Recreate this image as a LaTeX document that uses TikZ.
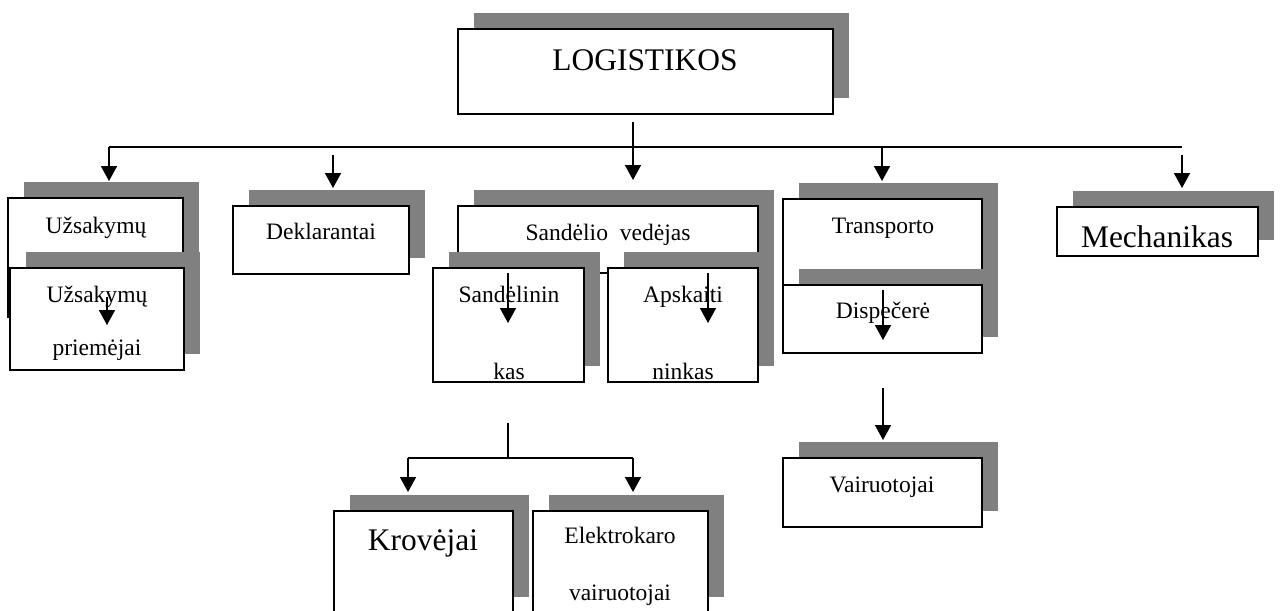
\documentclass[tikz,border=0pt]{standalone}
\usepackage{fontspec}
\setmainfont{Liberation Serif}
\usetikzlibrary{arrows.meta,fit,shadows}
\definecolor{shade}{RGB}{128,128,128}
\begin{document}
\begin{tikzpicture}[x=0.02cm,y=-0.02cm,
  unit/.style={draw=black, line width=1.25pt, fill=white, inner sep=0pt,
    general shadow={fill=shade, draw=none, shadow xshift=0.32cm, shadow yshift=0.32cm}},
  small/.style={anchor=base, inner sep=0pt, font=\fontsize{13.4pt}{16pt}\selectfont},
  large/.style={anchor=base, inner sep=0pt, font=\fontsize{17.9pt}{21pt}\selectfont},
  link/.style={line width=1pt},
  arr/.style={line width=1pt, -{Triangle[length=0.3cm,width=0.32cm]}}]
\useasboundingbox (0,0) rectangle (1280,610);
\clip (0,0) rectangle (1280,610);

% boxes, drawn back to front
\node[unit, fit={(458,29) (833,114)}] (log) {};
\node[unit, fit={(8,198) (183,317)}] (uz1) {};
\node[unit, fit={(10,268) (184,370)}] (uz2) {};
\node[unit, fit={(233,206) (409,274)}] (dek) {};
\node[unit, fit={(458,206) (758,273)}] (sv) {};
\node[unit, fit={(433,268) (584,382)}] (sk) {};
\node[unit, fit={(608,268) (758,382)}] (ap) {};
\node[unit, fit={(783,199) (982,300)}] (tr) {};
\node[unit, fit={(783,285) (982,353)}] (dis) {};
\node[unit, fit={(1057,207) (1258,256)}] (mech) {};
\node[unit, fit={(783,458) (982,527)}] (vai) {};
\node[unit, fit={(334,511) (513,613)}] (kro) {};
\node[unit, fit={(533,511) (708,613)}] (el) {};

% labels
\node[large] (logT) at (645,70) {LOGISTIKOS};
\node[small] (uz1T) at (96,233) {Užsakymų};
\node[small] (uz2T) at (97,302) {Užsakymų};
\node[small] (uz2B) at (97,355) {priemėjai};
\node[small] (dekT) at (321,239) {Deklarantai};
\node[small] (svT) at (608,240) {Sandėlio\ \ vedėjas};
\node[small] (skT) at (509,302) {Sandėlinin};
\node[small] (skB) at (509,379) {kas};
\node[small] (apT) at (683,302) {Apskaiti};
\node[small] (apB) at (683,379) {ninkas};
\node[small] (trT) at (883,233) {Transporto};
\node[small] (disT) at (883,318) {Dispečerė};
\node[large] (mechT) at (1157,247) {Mechanikas};
\node[small] (vaiT) at (882,492) {Vairuotojai};
\node[large] (kroT) at (423,550) {Krovėjai};
\node[small] (elT) at (620,543) {Elektrokaro};
\node[small] (elB) at (620,600) {vairuotojai};

% connector points
\coordinate (top) at (633,122);
\coordinate (topTip) at (633,180);
\coordinate (busL) at (109,147);
\coordinate (busR) at (1182,147);
\coordinate (busT) at (882,147);
\coordinate (uzTip) at (109,181);
\coordinate (trTip) at (882,181);
\coordinate (dekS) at (333,155);
\coordinate (dekTip) at (333,188);
\coordinate (mechS) at (1182,155);
\coordinate (mechTip) at (1182,188);
\coordinate (uzS) at (107,297);
\coordinate (uzIn) at (107,325);
\coordinate (skS) at (508,273);
\coordinate (skIn) at (508,323);
\coordinate (apS) at (708,273);
\coordinate (apIn) at (708,323);
\coordinate (disS) at (883,290);
\coordinate (disIn) at (883,340);
\coordinate (vaiS) at (883,388);
\coordinate (vaiTip) at (883,440);
\coordinate (lowS) at (508,423);
\coordinate (lowM) at (508,458);
\coordinate (lowL) at (408,458);
\coordinate (lowR) at (633,458);
\coordinate (kroTip) at (408,492);
\coordinate (elTip) at (633,492);

% connectors
\draw[link] (busL) -- (busR);
\draw[arr] (top) -- (topTip);
\draw[arr] (busL) -- (uzTip);
\draw[arr] (busT) -- (trTip);
\draw[arr] (dekS) -- (dekTip);
\draw[arr] (mechS) -- (mechTip);
\draw[arr] (uzS) -- (uzIn);
\draw[arr] (skS) -- (skIn);
\draw[arr] (apS) -- (apIn);
\draw[arr] (disS) -- (disIn);
\draw[arr] (vaiS) -- (vaiTip);
\draw[link] (lowS) -- (lowM);
\draw[link] (lowL) -- (lowR);
\draw[arr] (lowL) -- (kroTip);
\draw[arr] (lowR) -- (elTip);
\end{tikzpicture}
\end{document}
